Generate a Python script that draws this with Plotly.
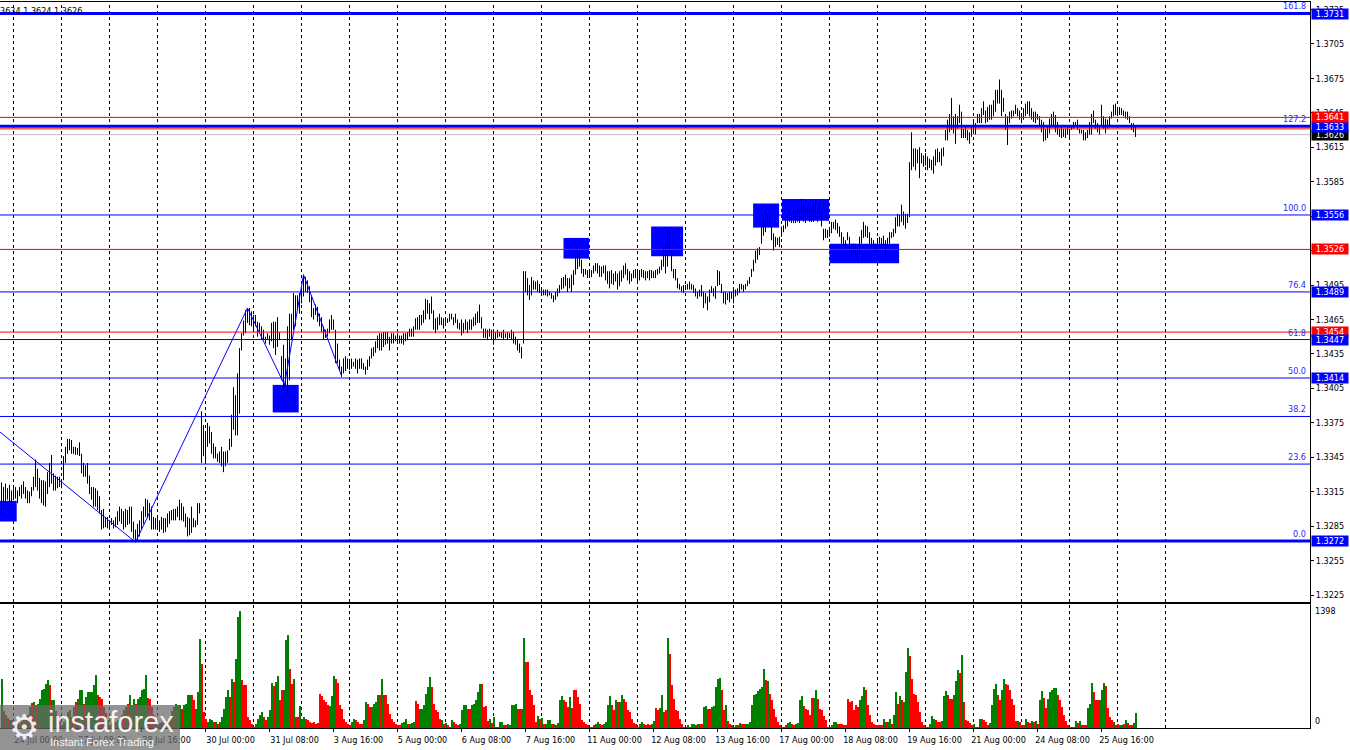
import plotly.graph_objects as go

# ---------------- data (hourly bars, first bar = 23 Jul 18:00) ----------------
highs = [
    1.3323, 1.3319, 1.3322, 1.3318, 1.3321, 1.3316, 1.3318, 1.3319, 1.3316, 1.3319,
    1.3321, 1.3324, 1.3319, 1.3316, 1.3315, 1.3319, 1.3328, 1.3343, 1.3335, 1.3327,
    1.3325, 1.3325, 1.3324, 1.3332, 1.3340, 1.3347, 1.3331, 1.3329, 1.3328, 1.3328,
    1.3324, 1.3346, 1.3354, 1.3361, 1.3361, 1.3360, 1.3354, 1.3354, 1.3353, 1.3358,
    1.3348, 1.3340, 1.3338, 1.3340, 1.3329, 1.3319, 1.3319, 1.3318, 1.3316, 1.3311,
    1.3299, 1.3300, 1.3293, 1.3293, 1.3290, 1.3292, 1.3290, 1.3293, 1.3298, 1.3302,
    1.3300, 1.3298, 1.3300, 1.3299, 1.3302, 1.3302, 1.3289, 1.3282, 1.3287, 1.3290,
    1.3298, 1.3302, 1.3309, 1.3308, 1.3305, 1.3302, 1.3293, 1.3292, 1.3292, 1.3290,
    1.3293, 1.3292, 1.3292, 1.3296, 1.3298, 1.3299, 1.3300, 1.3300, 1.3302, 1.3308,
    1.3305, 1.3302, 1.3296, 1.3293, 1.3292, 1.3302, 1.3292, 1.3290, 1.3305, 1.3305,
    1.3385, 1.3373, 1.3366, 1.3375, 1.3372, 1.3367, 1.3357, 1.3354, 1.3348, 1.3350,
    1.3354, 1.3350, 1.3350, 1.3351, 1.3361, 1.3382, 1.3406, 1.3399, 1.3418, 1.3440,
    1.3453, 1.3464, 1.3473, 1.3475, 1.3475, 1.3472, 1.3469, 1.3469, 1.3463, 1.3462,
    1.3459, 1.3456, 1.3450, 1.3453, 1.3451, 1.3462, 1.3463, 1.3463, 1.3467, 1.3454,
    1.3433, 1.3443, 1.3431, 1.3459, 1.3470, 1.3470, 1.3488, 1.3486, 1.3486, 1.3488,
    1.3492, 1.3504, 1.3502, 1.3499, 1.3494, 1.3485, 1.3475, 1.3478, 1.3476, 1.3470,
    1.3467, 1.3459, 1.3456, 1.3457, 1.3465, 1.3469, 1.3465, 1.3456, 1.3444, 1.3430,
    1.3424, 1.3431, 1.3433, 1.3431, 1.3430, 1.3431, 1.3428, 1.3431, 1.3430, 1.3431,
    1.3431, 1.3427, 1.3424, 1.3430, 1.3433, 1.3440, 1.3441, 1.3446, 1.3451, 1.3453,
    1.3453, 1.3454, 1.3454, 1.3454, 1.3450, 1.3453, 1.3453, 1.3451, 1.3453, 1.3451,
    1.3451, 1.3453, 1.3453, 1.3454, 1.3457, 1.3457, 1.3459, 1.3466, 1.3467, 1.3469,
    1.3469, 1.3473, 1.3483, 1.3482, 1.3479, 1.3485, 1.3473, 1.3466, 1.3467, 1.3470,
    1.3467, 1.3466, 1.3467, 1.3466, 1.3470, 1.3470, 1.3467, 1.3470, 1.3465, 1.3462,
    1.3465, 1.3462, 1.3465, 1.3463, 1.3465, 1.3465, 1.3467, 1.3470, 1.3472, 1.3478,
    1.3467, 1.3457, 1.3457, 1.3456, 1.3457, 1.3456, 1.3456, 1.3454, 1.3456, 1.3454,
    1.3454, 1.3456, 1.3453, 1.3454, 1.3453, 1.3456, 1.3454, 1.3450, 1.3447, 1.3444,
    1.3441, 1.3507, 1.3507, 1.3501, 1.3495, 1.3502, 1.3499, 1.3498, 1.3499, 1.3496,
    1.3492, 1.3491, 1.3491, 1.3491, 1.3489, 1.3488, 1.3486, 1.3489, 1.3492, 1.3495,
    1.3501, 1.3502, 1.3504, 1.3501, 1.3501, 1.3504, 1.3508, 1.3521, 1.3528, 1.3525,
    1.3517, 1.3509, 1.3509, 1.3508, 1.3508, 1.3508, 1.3512, 1.3514, 1.3514, 1.3512,
    1.3511, 1.3512, 1.3512, 1.3507, 1.3507, 1.3508, 1.3505, 1.3507, 1.3505, 1.3507,
    1.3508, 1.3512, 1.3514, 1.3509, 1.3507, 1.3505, 1.3508, 1.3509, 1.3507, 1.3508,
    1.3509, 1.3508, 1.3507, 1.3507, 1.3508, 1.3508, 1.3507, 1.3508, 1.3509, 1.3511,
    1.3517, 1.3528, 1.3531, 1.3543, 1.3543, 1.3525, 1.3509, 1.3509, 1.3501, 1.3496,
    1.3494, 1.3495, 1.3495, 1.3496, 1.3498, 1.3496, 1.3495, 1.3492, 1.3489, 1.3491,
    1.3495, 1.3489, 1.3488, 1.3485, 1.3491, 1.3494, 1.3492, 1.3494, 1.3508, 1.3507,
    1.3496, 1.3489, 1.3489, 1.3488, 1.3489, 1.3489, 1.3491, 1.3491, 1.3492, 1.3496,
    1.3496, 1.3495, 1.3496, 1.3499, 1.3502, 1.3509, 1.3517, 1.3525, 1.3527, 1.3528,
    1.3546, 1.3553, 1.3560, 1.3557, 1.3556, 1.3546, 1.3540, 1.3537, 1.3536, 1.3537,
    1.3546, 1.3547, 1.3552, 1.3556, 1.3559, 1.3556, 1.3560, 1.3559, 1.3562, 1.3559,
    1.3570, 1.3565, 1.3562, 1.3563, 1.3562, 1.3562, 1.3565, 1.3568, 1.3562, 1.3565,
    1.3559, 1.3544, 1.3544, 1.3543, 1.3543, 1.3550, 1.3550, 1.3552, 1.3549, 1.3546,
    1.3541, 1.3537, 1.3534, 1.3541, 1.3537, 1.3531, 1.3531, 1.3531, 1.3528, 1.3537,
    1.3543, 1.3550, 1.3547, 1.3546, 1.3541, 1.3536, 1.3534, 1.3531, 1.3536, 1.3537,
    1.3536, 1.3538, 1.3534, 1.3536, 1.3541, 1.3541, 1.3544, 1.3554, 1.3557, 1.3556,
    1.3565, 1.3559, 1.3557, 1.3557, 1.3602, 1.3628, 1.3614, 1.3614, 1.3613, 1.3615,
    1.3610, 1.3608, 1.3610, 1.3607, 1.3605, 1.3604, 1.3607, 1.3613, 1.3614, 1.3611,
    1.3614, 1.3615, 1.3630, 1.3639, 1.3644, 1.3658, 1.3642, 1.3644, 1.3642, 1.3652,
    1.3646, 1.3631, 1.3634, 1.3630, 1.3628, 1.3634, 1.3637, 1.3636, 1.3644, 1.3644,
    1.3649, 1.3655, 1.3647, 1.3650, 1.3652, 1.3652, 1.3656, 1.3665, 1.3665, 1.3674,
    1.3665, 1.3658, 1.3644, 1.3642, 1.3646, 1.3647, 1.3647, 1.3652, 1.3649, 1.3647,
    1.3643, 1.3649, 1.3653, 1.3655, 1.3655, 1.3649, 1.3646, 1.3646, 1.3644, 1.3642,
    1.3639, 1.3637, 1.3631, 1.3634, 1.3640, 1.3644, 1.3646, 1.3643, 1.3637, 1.3631,
    1.3633, 1.3631, 1.3631, 1.3633, 1.3631, 1.3634, 1.3637, 1.3637, 1.3639, 1.3631,
    1.3630, 1.3630, 1.3628, 1.3630, 1.3637, 1.3644, 1.3647, 1.3639, 1.3636, 1.3633,
    1.3652, 1.3642, 1.3640, 1.3639, 1.3642, 1.3646, 1.3652, 1.3653, 1.3649, 1.3650,
    1.3649, 1.3647, 1.3646, 1.3646, 1.3642, 1.3636, 1.3636, 1.3634,
]

lows = [
    1.3296, 1.3302, 1.3305, 1.3308, 1.3306, 1.3305, 1.3308, 1.3309, 1.3305, 1.3311,
    1.3309, 1.3313, 1.3309, 1.3305, 1.3305, 1.3311, 1.3316, 1.3319, 1.3316, 1.3309,
    1.3305, 1.3303, 1.3302, 1.3313, 1.3319, 1.3322, 1.3316, 1.3316, 1.3318, 1.3319,
    1.3318, 1.3325, 1.3340, 1.3348, 1.3351, 1.3348, 1.3348, 1.3347, 1.3347, 1.3346,
    1.3331, 1.3328, 1.3328, 1.3322, 1.3313, 1.3308, 1.3302, 1.3302, 1.3299, 1.3296,
    1.3282, 1.3283, 1.3284, 1.3283, 1.3282, 1.3286, 1.3283, 1.3284, 1.3286, 1.3289,
    1.3287, 1.3282, 1.3284, 1.3286, 1.3287, 1.3280, 1.3274, 1.3271, 1.3271, 1.3276,
    1.3282, 1.3287, 1.3293, 1.3292, 1.3290, 1.3282, 1.3282, 1.3282, 1.3282, 1.3280,
    1.3282, 1.3279, 1.3280, 1.3284, 1.3287, 1.3290, 1.3290, 1.3290, 1.3293, 1.3290,
    1.3290, 1.3289, 1.3284, 1.3276, 1.3277, 1.3279, 1.3284, 1.3284, 1.3286, 1.3296,
    1.3340, 1.3346, 1.3340, 1.3354, 1.3357, 1.3348, 1.3344, 1.3344, 1.3341, 1.3340,
    1.3337, 1.3332, 1.3337, 1.3340, 1.3351, 1.3354, 1.3369, 1.3364, 1.3364, 1.3383,
    1.3438, 1.3451, 1.3453, 1.3462, 1.3460, 1.3459, 1.3454, 1.3459, 1.3450, 1.3454,
    1.3447, 1.3447, 1.3444, 1.3447, 1.3443, 1.3446, 1.3440, 1.3434, 1.3441, 1.3447,
    1.3412, 1.3404, 1.3406, 1.3401, 1.3412, 1.3447, 1.3456, 1.3459, 1.3473, 1.3470,
    1.3479, 1.3485, 1.3489, 1.3488, 1.3480, 1.3467, 1.3465, 1.3469, 1.3463, 1.3459,
    1.3454, 1.3447, 1.3449, 1.3450, 1.3453, 1.3456, 1.3456, 1.3427, 1.3427, 1.3421,
    1.3415, 1.3418, 1.3420, 1.3422, 1.3421, 1.3422, 1.3424, 1.3422, 1.3418, 1.3422,
    1.3422, 1.3421, 1.3417, 1.3421, 1.3424, 1.3431, 1.3433, 1.3436, 1.3440, 1.3438,
    1.3438, 1.3441, 1.3443, 1.3444, 1.3438, 1.3444, 1.3444, 1.3446, 1.3446, 1.3444,
    1.3444, 1.3443, 1.3446, 1.3447, 1.3450, 1.3450, 1.3450, 1.3456, 1.3456, 1.3456,
    1.3460, 1.3462, 1.3465, 1.3470, 1.3465, 1.3470, 1.3456, 1.3453, 1.3456, 1.3460,
    1.3460, 1.3457, 1.3462, 1.3462, 1.3463, 1.3465, 1.3460, 1.3462, 1.3457, 1.3456,
    1.3451, 1.3453, 1.3456, 1.3453, 1.3456, 1.3456, 1.3459, 1.3460, 1.3462, 1.3462,
    1.3457, 1.3449, 1.3449, 1.3447, 1.3450, 1.3447, 1.3443, 1.3447, 1.3449, 1.3450,
    1.3449, 1.3447, 1.3449, 1.3447, 1.3449, 1.3447, 1.3444, 1.3443, 1.3438, 1.3436,
    1.3431, 1.3444, 1.3489, 1.3486, 1.3482, 1.3486, 1.3491, 1.3491, 1.3489, 1.3488,
    1.3486, 1.3486, 1.3486, 1.3485, 1.3486, 1.3483, 1.3480, 1.3482, 1.3485, 1.3488,
    1.3491, 1.3492, 1.3494, 1.3489, 1.3492, 1.3489, 1.3495, 1.3504, 1.3509, 1.3511,
    1.3505, 1.3502, 1.3504, 1.3501, 1.3502, 1.3502, 1.3505, 1.3507, 1.3505, 1.3502,
    1.3502, 1.3505, 1.3499, 1.3496, 1.3492, 1.3496, 1.3495, 1.3498, 1.3491, 1.3494,
    1.3498, 1.3501, 1.3504, 1.3499, 1.3496, 1.3498, 1.3501, 1.3501, 1.3498, 1.3499,
    1.3502, 1.3501, 1.3499, 1.3501, 1.3499, 1.3501, 1.3501, 1.3501, 1.3504, 1.3505,
    1.3508, 1.3511, 1.3505, 1.3511, 1.3523, 1.3507, 1.3501, 1.3499, 1.3492, 1.3491,
    1.3489, 1.3488, 1.3491, 1.3491, 1.3491, 1.3491, 1.3488, 1.3485, 1.3483, 1.3485,
    1.3485, 1.3475, 1.3479, 1.3473, 1.3480, 1.3488, 1.3485, 1.3483, 1.3494, 1.3495,
    1.3488, 1.3479, 1.3478, 1.3482, 1.3480, 1.3483, 1.3479, 1.3485, 1.3486, 1.3488,
    1.3491, 1.3489, 1.3491, 1.3494, 1.3496, 1.3502, 1.3507, 1.3514, 1.3517, 1.3521,
    1.3531, 1.3538, 1.3541, 1.3547, 1.3546, 1.3534, 1.3525, 1.3528, 1.3530, 1.3528,
    1.3537, 1.3541, 1.3544, 1.3546, 1.3550, 1.3549, 1.3549, 1.3549, 1.3550, 1.3549,
    1.3552, 1.3550, 1.3549, 1.3552, 1.3550, 1.3550, 1.3550, 1.3553, 1.3550, 1.3553,
    1.3546, 1.3534, 1.3536, 1.3536, 1.3537, 1.3540, 1.3544, 1.3543, 1.3540, 1.3537,
    1.3531, 1.3528, 1.3527, 1.3534, 1.3527, 1.3520, 1.3523, 1.3520, 1.3517, 1.3522,
    1.3531, 1.3536, 1.3537, 1.3536, 1.3531, 1.3528, 1.3527, 1.3524, 1.3525, 1.3531,
    1.3527, 1.3528, 1.3521, 1.3528, 1.3531, 1.3536, 1.3537, 1.3540, 1.3546, 1.3546,
    1.3550, 1.3547, 1.3544, 1.3549, 1.3554, 1.3595, 1.3598, 1.3595, 1.3601, 1.3588,
    1.3601, 1.3598, 1.3599, 1.3595, 1.3597, 1.3595, 1.3592, 1.3599, 1.3602, 1.3602,
    1.3599, 1.3607, 1.3621, 1.3621, 1.3628, 1.3630, 1.3627, 1.3618, 1.3631, 1.3636,
    1.3623, 1.3623, 1.3623, 1.3621, 1.3618, 1.3624, 1.3627, 1.3626, 1.3636, 1.3636,
    1.3636, 1.3643, 1.3636, 1.3637, 1.3639, 1.3639, 1.3642, 1.3646, 1.3653, 1.3653,
    1.3642, 1.3646, 1.3630, 1.3617, 1.3636, 1.3640, 1.3642, 1.3644, 1.3642, 1.3639,
    1.3636, 1.3639, 1.3642, 1.3644, 1.3642, 1.3639, 1.3637, 1.3636, 1.3639, 1.3634,
    1.3628, 1.3620, 1.3621, 1.3623, 1.3627, 1.3633, 1.3634, 1.3628, 1.3626, 1.3624,
    1.3623, 1.3624, 1.3623, 1.3626, 1.3624, 1.3630, 1.3631, 1.3633, 1.3630, 1.3627,
    1.3627, 1.3621, 1.3621, 1.3623, 1.3626, 1.3626, 1.3636, 1.3631, 1.3628, 1.3626,
    1.3634, 1.3631, 1.3627, 1.3631, 1.3633, 1.3640, 1.3642, 1.3643, 1.3642, 1.3643,
    1.3643, 1.3642, 1.3640, 1.3639, 1.3636, 1.3630, 1.3628, 1.3624,
]

volumes = [
    588, 200, 150, 120, 100, 90, 60, 50, 70, 60,
    80, 90, 110, 150, 250, 300, 310, 270, 290, 350,
    450, 470, 530, 575, 510, 330, 330, 200, 130, 80,
    30, 70, 100, 190, 210, 130, 250, 310, 350, 450,
    455, 290, 370, 430, 430, 430, 510, 630, 390, 370,
    350, 250, 180, 100, 40, 60, 80, 70, 90, 100,
    150, 220, 250, 290, 400, 270, 350, 290, 350, 370,
    450, 470, 630, 360, 350, 250, 150, 100, 40, 60,
    70, 60, 80, 90, 130, 200, 250, 290, 270, 270,
    230, 270, 290, 400, 400, 390, 330, 230, 430, 1060,
    770, 190, 110, 70, 110, 90, 70, 70, 50, 70,
    130, 230, 370, 460, 370, 590, 550, 830, 1330, 1398,
    570, 510, 510, 130, 90, 50, 15, 50, 110, 150,
    190, 130, 90, 130, 210, 540, 500, 550, 620, 330,
    450, 450, 1050, 1110, 710, 530, 590, 130, 130, 260,
    110, 130, 110, 90, 70, 55, 70, 50, 55, 410,
    380, 330, 310, 270, 260, 380, 620, 590, 540, 270,
    230, 110, 70, 50, 30, 70, 110, 90, 70, 50,
    50, 90, 310, 290, 250, 250, 290, 310, 400, 400,
    590, 390, 390, 290, 170, 110, 70, 50, 30, 30,
    55, 70, 110, 50, 50, 55, 70, 320, 290, 230,
    230, 270, 410, 490, 610, 490, 290, 210, 190, 110,
    90, 50, 55, 30, 15, 90, 70, 50, 30, 50,
    210, 270, 280, 230, 230, 270, 290, 330, 430, 530,
    520, 250, 260, 80, 110, 55, 130, 15, 10, 70,
    70, 30, 30, 50, 40, 270, 270, 290, 230, 230,
    230, 1080, 790, 790, 460, 390, 270, 70, 140, 110,
    120, 50, 50, 90, 100, 50, 50, 30, 55, 340,
    380, 330, 310, 250, 370, 240, 460, 450, 370, 290,
    90, 70, 50, 30, 10, 10, 30, 50, 70, 50,
    30, 50, 70, 270, 380, 270, 220, 330, 310, 310,
    400, 350, 310, 220, 190, 110, 55, 50, 10, 50,
    70, 50, 30, 50, 30, 50, 80, 240, 210, 240,
    390, 190, 210, 1070, 880, 510, 350, 210, 200, 110,
    50, 15, 10, 30, 15, 50, 50, 40, 50, 50,
    50, 250, 260, 230, 230, 250, 260, 490, 580, 600,
    460, 220, 280, 80, 50, 30, 10, 30, 30, 55,
    50, 50, 50, 50, 70, 270, 390, 410, 440, 470,
    490, 700, 570, 560, 410, 330, 230, 130, 70, 30,
    15, 15, 30, 55, 70, 50, 40, 50, 55, 330,
    380, 260, 230, 220, 150, 360, 360, 450, 350, 230,
    210, 140, 90, 15, 10, 30, 70, 70, 50, 50,
    50, 40, 40, 350, 310, 320, 220, 270, 250, 340,
    380, 490, 460, 270, 150, 70, 50, 30, 30, 30,
    30, 110, 70, 70, 110, 50, 160, 430, 290, 380,
    330, 310, 670, 960, 860, 580, 410, 390, 310, 190,
    70, 30, 15, 10, 50, 140, 110, 90, 70, 70,
    80, 380, 440, 400, 350, 350, 400, 560, 690, 660,
    870, 310, 90, 80, 55, 30, 50, 15, 15, 110,
    110, 100, 70, 40, 55, 280, 470, 520, 390, 340,
    460, 580, 520, 510, 450, 350, 270, 80, 80, 70,
    30, 30, 110, 70, 55, 80, 70, 80, 50, 330,
    440, 360, 240, 350, 430, 460, 480, 480, 400, 330,
    250, 150, 80, 40, 15, 10, 10, 80, 55, 80,
    40, 30, 30, 240, 290, 540, 430, 330, 330, 330,
    460, 540, 500, 240, 130, 100, 70, 40, 50, 30,
    30, 50, 90, 55, 40, 30, 55, 180,
]

# g = up bar (green volume), r = down bar (red volume)
vol_dir = "".join([
    "grgrgrrgrg", "grgrgrgrgg", "ggggrggrgr", "gggggrrrgg", "grggggggrr",
    "rrrgrgrggg", "rrgrgggrgg", "gggrrrrgrg", "rggggrgggg", "rggggrrggg",
    "rrrgggrgrg", "ggggrgrggg", "rrrrrrrggg", "grrgggrggr", "rgggrrgrrg",
    "ggrrrrrrrr", "rrrrgggrrr", "rrrrrggrrr", "rggrrggggr", "grrrrrrrrr",
    "gggrgggrrg", "gggggrrrrr", "grgrrgrrrg", "gggrrggggg", "rrrrgrgrrg",
    "grrgggggrr", "ggrrrrrrgr", "grgggrgrgg", "grrrgrrrrr", "rrrrrrrggr",
    "rggggrrgrg", "grrrrrrrrg", "grrrrggrrg", "grrgrrrrrr", "rrrgrggrgr",
    "rggrrggggg", "rrgrrgrgrg", "rrgggggggg", "ggrgrrrrrr", "rgrggrrggg",
    "grrrrrggrr", "rrrrrgggrr", "rrrrrrrrrg", "ggrrrrrrrr", "rgrggrggrg",
    "rgggrrrrrr", "rrrrgggrrr", "gggrrrgggr", "grrrrrggrg", "rrrrggggrr",
    "ggrrrrrrgr", "rrgrrgrgrg", "grrgggggrr", "rrrrrgrgrg", "rrrgggrrrg",
    "ggrrrrgrrg", "grgrrrgg",
])

tick_bars = [6, 38, 70, 102, 134, 166, 198, 230, 262, 294, 326, 358, 390, 422, 454, 486, 518, 550]
tick_text = ["24 Jul 00:00", "27 Jul 08:00", "28 Jul 16:00", "30 Jul 00:00", "31 Jul 08:00",
             "3 Aug 16:00", "5 Aug 00:00", "6 Aug 08:00", "7 Aug 16:00", "11 Aug 00:00",
             "12 Aug 08:00", "13 Aug 16:00", "17 Aug 00:00", "18 Aug 08:00", "19 Aug 16:00",
             "21 Aug 00:00", "24 Aug 08:00", "25 Aug 16:00"]
day_start_bars = [6, 30, 54, 78, 102, 126, 150, 174, 198, 222, 246, 270, 294, 318, 342,
                  366, 390, 414, 438, 462, 486, 510, 534, 558, 582]
price_ticks = [1.3225, 1.3255, 1.3285, 1.3315, 1.3345, 1.3375, 1.3405, 1.3435, 1.3465,
               1.3495, 1.3525, 1.3555, 1.3585, 1.3615, 1.3645, 1.3675, 1.3705, 1.3735]

fib_low, fib_high = 1.3272, 1.3556
fib_levels = [0.0, 23.6, 38.2, 50.0, 61.8, 76.4, 100.0, 127.2, 161.8]
fib_thick = [0.0, 127.2, 161.8]
red_levels = [1.3641, 1.3631, 1.3526, 1.3454]
bid_price = 1.3626

zigzag_bars = [-0.75, 67, 123, 141.5, 151, 170]
zigzag_prices = [1.3367, 1.3271, 1.3475, 1.3408, 1.3504, 1.3416]

# signal rectangles: (bar_from, bar_to, price_low, price_high)
signal_boxes = [
    (-0.75, 7.6, 1.3289, 1.3307),
    (135.6, 148.6, 1.3384, 1.3408),
    (281.0, 293.8, 1.3518, 1.3536),
    (324.8, 340.8, 1.3520, 1.3546),
    (375.8, 388.8, 1.3545, 1.3566),
    (390.2, 413.8, 1.3551, 1.3570),
    (414.0, 448.8, 1.3514, 1.3531),
]

BLUE = "#0000ff"
RED = "#ff0000"
price_tags = [
    ("1.3626", 1.3626, "#000000"), ("1.3633", 1.3633, BLUE), ("1.3641", 1.3641, RED),
    ("1.3731", 1.3731, BLUE), ("1.3556", 1.3556, BLUE), ("1.3526", 1.3526, RED),
    ("1.3489", 1.3489, BLUE), ("1.3454", 1.3454, RED), ("1.3447", 1.3447, BLUE),
    ("1.3414", 1.3414, BLUE), ("1.3272", 1.3272, BLUE),
]
vol_max_label = 1398
header_text = "3634 1.3624 1.3626"

assert len(highs) == len(lows) == len(volumes) == len(vol_dir)

# ---------------- figure ----------------
FONT = "DejaVu Sans Condensed, Liberation Sans Narrow, DejaVu Sans, sans-serif"
n = len(highs)
X_RANGE = [-0.75, 654.25]
Y_RANGE = [1.32189, 1.37415]

fig = go.Figure()

bx, by = [], []
for i in range(n):
    bx += [i, i, None]
    by += [lows[i], highs[i], None]
fig.add_trace(go.Scatter(x=bx, y=by, mode="lines", line=dict(color="black", width=1),
                         hoverinfo="skip", xaxis="x", yaxis="y"))
fig.add_trace(go.Scatter(x=zigzag_bars, y=zigzag_prices, mode="lines",
                         line=dict(color=BLUE, width=1), hoverinfo="skip",
                         xaxis="x", yaxis="y"))
fig.add_trace(go.Bar(x=list(range(n)), y=volumes, width=1, offset=-0.25,
                     marker=dict(color=["#008000" if d == "g" else RED for d in vol_dir],
                                 line=dict(width=0)),
                     hoverinfo="skip", xaxis="x2", yaxis="y2"))

shapes = []
for (b0, b1, p0, p1) in signal_boxes:
    shapes.append(dict(type="rect", xref="x", yref="y", x0=b0, x1=b1, y0=p0, y1=p1,
                       fillcolor=BLUE, line=dict(width=0), layer="below"))
for b in day_start_bars:
    shapes.append(dict(type="line", xref="x", yref="paper", x0=b, x1=b, y0=0, y1=1,
                       line=dict(color="black", width=1, dash="3px,3px"), layer="below"))
shapes.append(dict(type="line", xref="paper", yref="y", x0=0, x1=1, y0=bid_price, y1=bid_price,
                   line=dict(color="#c0c0c0", width=1), layer="below"))
for p in red_levels:
    shapes.append(dict(type="line", xref="paper", yref="y", x0=0, x1=1, y0=p, y1=p,
                       line=dict(color=RED, width=1), layer="above"))
for r in fib_levels:
    p = fib_low + r / 100.0 * (fib_high - fib_low)
    shapes.append(dict(type="line", xref="paper", yref="y", x0=0, x1=1, y0=p, y1=p,
                       line=dict(color=BLUE, width=3 if r in fib_thick else 1), layer="above"))
# watermark box
shapes.append(dict(type="rect", xref="paper", yref="paper", x0=0, x1=180 / 1310,
                   y0=-22 / 726, y1=23 / 726, fillcolor="rgba(105,105,105,0.72)",
                   line=dict(width=0), layer="above"))

annotations = []
for r in fib_levels:
    p = fib_low + r / 100.0 * (fib_high - fib_low)
    annotations.append(dict(text=f"{r:.1f}", xref="paper", yref="y", x=1, y=p,
                            xanchor="right", yanchor="bottom", xshift=-2, yshift=0,
                            showarrow=False, font=dict(family=FONT, size=9, color="#2a2aff")))
for txt, p, col in price_tags:
    annotations.append(dict(text=txt, xref="paper", yref="y", x=1, y=p, xanchor="left",
                            yanchor="middle", xshift=1, showarrow=False, bgcolor=col,
                            width=35, height=9, borderpad=0.5,
                            font=dict(family=FONT, size=9, color="white")))
annotations.append(dict(text=str(vol_max_label), xref="paper", yref="y2", x=1, y=vol_max_label,
                        xanchor="left", yanchor="middle", xshift=3, showarrow=False,
                        font=dict(family=FONT, size=9, color="black")))
annotations.append(dict(text="0", xref="paper", yref="y2", x=1, y=0, xanchor="left",
                        yanchor="bottom", xshift=3, yshift=0, showarrow=False,
                        font=dict(family=FONT, size=9, color="black")))
annotations.append(dict(text=header_text, xref="paper", yref="paper", x=0, y=1,
                        xanchor="left", yanchor="top", xshift=-2, yshift=-2, showarrow=False,
                        font=dict(family=FONT, size=9, color="black")))
# watermark texts
annotations.append(dict(text="\u2699", xref="paper", yref="paper", x=24 / 1310, y=1 / 726,
                        xanchor="center", yanchor="middle", showarrow=False,
                        font=dict(family="DejaVu Sans", size=34, color="rgba(255,255,255,0.9)")))
annotations.append(dict(text="instaforex", xref="paper", yref="paper", x=46 / 1310, y=6 / 726,
                        xanchor="left", yanchor="middle", showarrow=False,
                        font=dict(family="Liberation Sans", size=29, color="rgba(255,255,255,0.92)")))
annotations.append(dict(text="Instant Forex Trading", xref="paper", yref="paper", x=48 / 1310,
                        y=-14 / 726, xanchor="left", yanchor="middle", showarrow=False,
                        font=dict(family="Liberation Sans", size=11, color="rgba(255,255,255,0.92)")))

fig.update_layout(
    width=1350, height=750,
    margin=dict(l=0, r=40, t=2, b=22),
    paper_bgcolor="white", plot_bgcolor="rgba(0,0,0,0)",
    showlegend=False, hovermode=False,
    font=dict(family=FONT, size=9, color="black"),
    bargap=0,
    shapes=shapes, annotations=annotations,
    xaxis=dict(domain=[0, 1], anchor="y", range=X_RANGE, showticklabels=False, ticks="",
               showgrid=False, zeroline=False, showline=True, mirror=True,
               linecolor="black", linewidth=1),
    yaxis=dict(domain=[0.17355, 1], anchor="x", side="right", range=Y_RANGE,
               tickvals=price_ticks, ticktext=[f"{v:.4f}" for v in price_ticks],
               ticks="outside", ticklen=3, tickcolor="black", showgrid=False,
               zeroline=False, showline=True, linecolor="black", linewidth=1,
               tickfont=dict(family=FONT, size=9, color="black")),
    xaxis2=dict(domain=[0, 1], anchor="y2", range=X_RANGE, tickvals=tick_bars,
                ticktext=tick_text, ticks="outside", ticklen=3, tickcolor="black",
                ticklabelshift=25, showgrid=False, zeroline=False, showline=True,
                mirror=True, linecolor="black", linewidth=1,
                tickfont=dict(family=FONT, size=9, color="black")),
    yaxis2=dict(domain=[0, 0.1708], anchor="x2", side="right", range=[0, 1482],
                showticklabels=False, ticks="", showgrid=False, zeroline=False,
                showline=True, linecolor="black", linewidth=1),
)

fig.write_html("out.html",
               config={"displayModeBar": False, "staticPlot": True},
               post_script="document.body.style.margin='0';document.body.style.overflow='hidden';")
